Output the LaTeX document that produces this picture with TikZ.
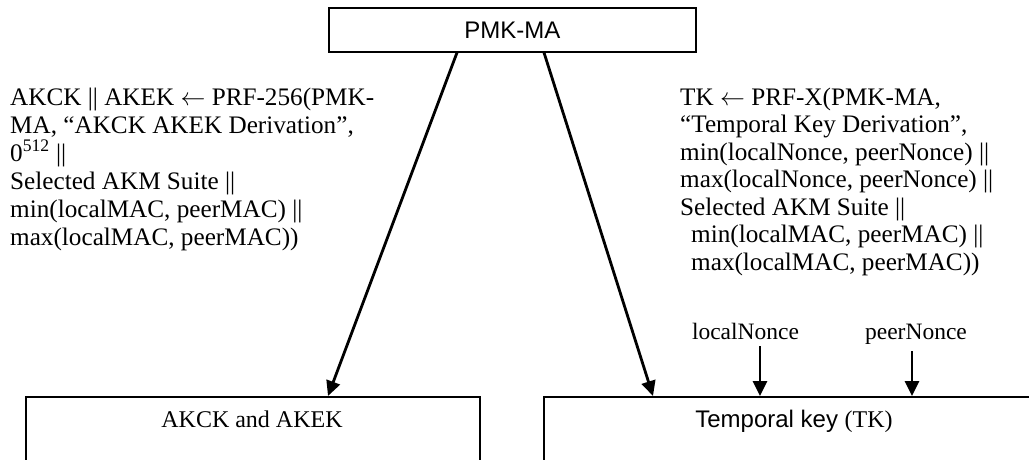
\documentclass[tikz,border=0pt]{standalone}
\usepackage{fontspec}
\setmainfont{Liberation Serif}
\newfontfamily\arialfont{Liberation Sans}
\usetikzlibrary{arrows.meta}
\newcommand{\getsfrom}{\ensuremath{\leftarrow}}
\begin{document}
\begin{tikzpicture}[x=1pt,y=-1pt,
  keybox/.style={draw, line width=1.6pt, inner sep=0pt, anchor=north west},
  formula/.style={anchor=base west, inner sep=0pt, align=left},
  label/.style={anchor=base, inner sep=0pt, font=\fontsize{23.5}{28}\selectfont},
  arr/.style={line width=2.8pt, -{Triangle[length=15pt,width=14pt]}}]
\useasboundingbox (0,0) rectangle (1029,460);

% source key
\node[keybox, minimum width=367pt, minimum height=44pt,
      font=\arialfont\fontsize{24}{28}\selectfont] (pmk) at (328,7) {PMK-MA};

% derived keys (boxes run past the lower and right edges)
\node[keybox, minimum width=454pt, minimum height=120pt] (akck) at (25,396) {};
\node[keybox, minimum width=502pt, minimum height=120pt] (tk) at (543,396) {};
\node[label, font=\fontsize{24}{28}\selectfont] (akcktxt) at (252,427) {AKCK and AKEK};
\node[label, font=\fontsize{24}{28}\selectfont] (tktxt) at (794,427) {{\arialfont Temporal key }(TK)};

% derivation formulas (anchored at the baseline of their last line)
\node[formula, font=\fontsize{25.2}{28}\selectfont] (fl) at (10,245) {AKCK || AKEK \getsfrom{} PRF-256(PMK-\\
MA, “AKCK AKEK Derivation”,\\
0\textsuperscript{512} ||\\
Selected AKM Suite ||\\
min(localMAC, peerMAC) ||\\
max(localMAC, peerMAC))};
\node[formula, font=\fontsize{25.2}{27.5}\selectfont] (fr) at (680,270) {TK \getsfrom{} PRF-X(PMK-MA,\\
“Temporal Key Derivation”,\\
min(localNonce, peerNonce) ||\\
max(localNonce, peerNonce) ||\\
Selected AKM Suite ||\\
\hspace{11pt}min(localMAC, peerMAC) ||\\
\hspace{11pt}max(localMAC, peerMAC))};

% nonce inputs
\node[label] (ln) at (745.5,339) {localNonce};
\node[label] (pn) at (916,339) {peerNonce};

% derivation arrows
\draw[arr] ([xshift=129pt]pmk.south west) -- ([xshift=303pt]akck.north west);
\draw[arr] ([xshift=216pt]pmk.south west) -- ([xshift=110pt]tk.north west);
\draw[arr] ([xshift=14.5pt,yshift=-7pt]ln.south) -- ([xshift=217pt]tk.north west);
\draw[arr] ([xshift=-4pt,yshift=-7pt]pn.south) -- ([xshift=369pt]tk.north west);
\end{tikzpicture}
\end{document}
